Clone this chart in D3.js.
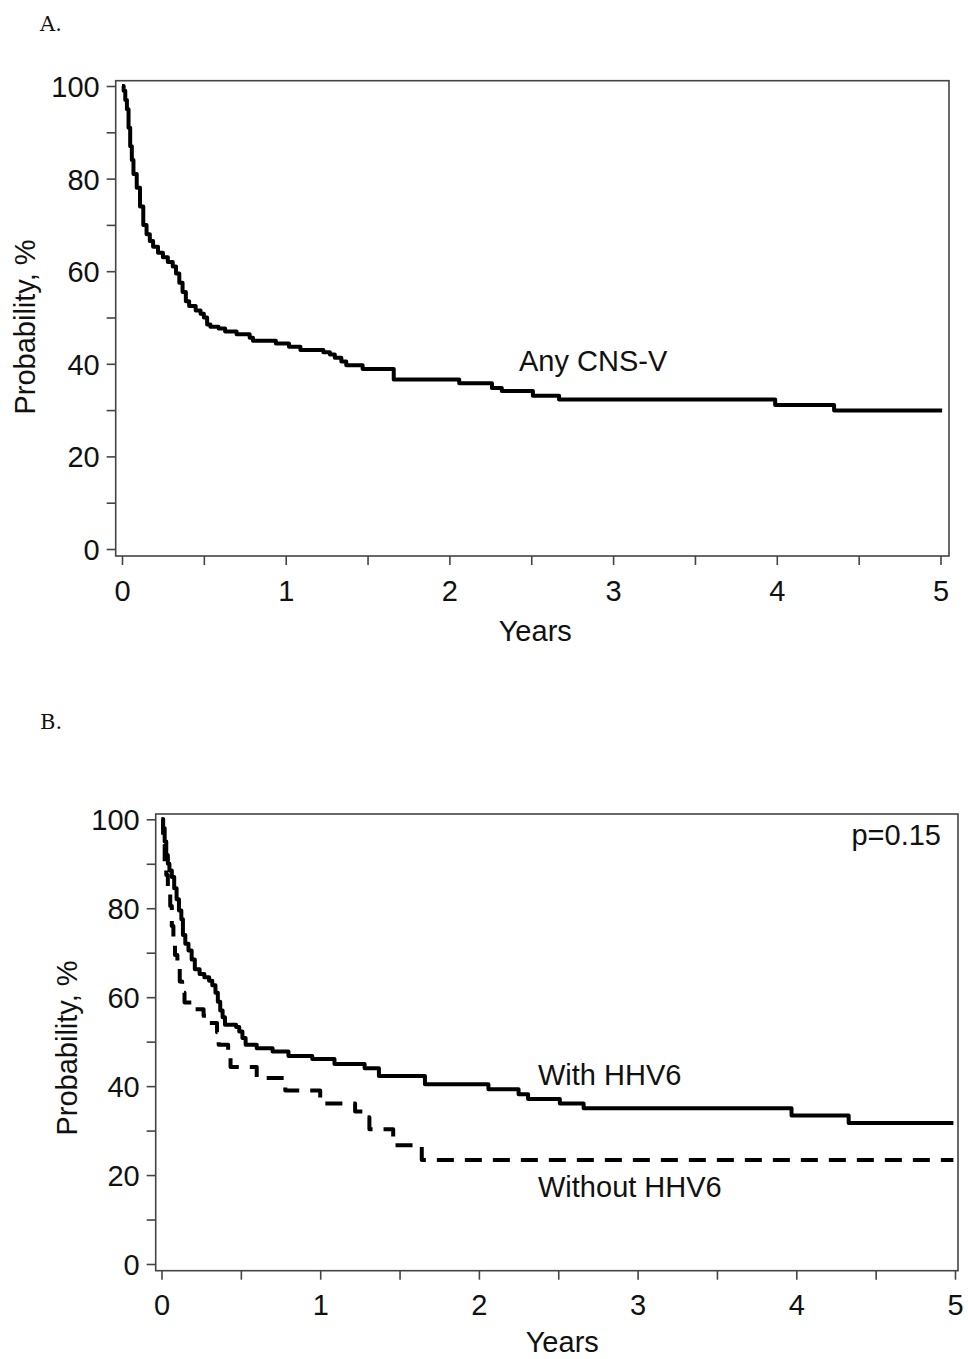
<!DOCTYPE html>
<html>
<head>
<meta charset="utf-8">
<script src="https://cdn.jsdelivr.net/npm/d3@7/dist/d3.min.js"></script>
<style>
  html, body { margin: 0; padding: 0; background: #fff; }
  svg { display: block; }
  text { font-family: "Liberation Sans", Arial, sans-serif; fill: #111; }
</style>
</head>
<body>
<svg id="chart" width="968" height="1359"></svg>
<script>
// ---------- data ----------
const yearTicks = [0, 1, 2, 3, 4, 5];
const yearMinorTicks = [0, 0.5, 1, 1.5, 2, 2.5, 3, 3.5, 4, 4.5, 5];
const probTicks = [0, 20, 40, 60, 80, 100];
const probMinorTicks = [0, 10, 20, 30, 40, 50, 60, 70, 80, 90, 100];

// Panel A: Any CNS-V
const anyTime = [0, 0.01, 0.02, 0.03, 0.04, 0.05, 0.06, 0.07, 0.09, 0.11, 0.13, 0.15, 0.17, 0.19, 0.22, 0.25, 0.28, 0.31, 0.33, 0.35, 0.37, 0.39, 0.41, 0.45, 0.48, 0.50, 0.52, 0.54, 0.59, 0.63, 0.70, 0.78, 0.80, 0.94, 1.02, 1.09, 1.23, 1.27, 1.30, 1.34, 1.37, 1.47, 1.66, 2.06, 2.26, 2.32, 2.51, 2.67, 3.99, 4.35, 5.01];
const anyProb = [100, 99, 97, 95, 91, 87, 84, 81, 78, 74, 70, 68, 66.5, 65.3, 64, 63, 62, 61, 59.5, 57.5, 55.5, 53.5, 52.5, 51.5, 50.8, 50, 48.5, 48, 47.6, 47, 46.4, 45.6, 45, 44.4, 43.7, 43, 42.5, 42, 41.3, 40.5, 39.7, 38.9, 36.6, 35.8, 34.8, 34.1, 33.1, 32.3, 31.1, 29.9, 29.9];

// Panel B: With HHV6
const withTime = [0, 0.01, 0.02, 0.03, 0.04, 0.05, 0.065, 0.08, 0.095, 0.11, 0.125, 0.135, 0.15, 0.17, 0.19, 0.21, 0.24, 0.27, 0.30, 0.32, 0.34, 0.355, 0.37, 0.385, 0.40, 0.47, 0.49, 0.51, 0.53, 0.60, 0.70, 0.80, 0.95, 1.09, 1.28, 1.37, 1.66, 2.06, 2.25, 2.31, 2.51, 2.66, 3.97, 4.33, 4.99];
const withProb = [100, 98, 95, 92, 90, 88.5, 87, 84.5, 82, 79.5, 77.5, 74, 72, 70.5, 68.5, 66.3, 65.2, 64.5, 63.7, 62.7, 61, 59, 57, 55.5, 53.8, 53.3, 52.3, 50.8, 49.3, 48.5, 47.8, 46.8, 46.1, 45, 44, 42.3, 40.4, 39.3, 38.2, 37.1, 36.1, 35, 33.4, 31.7, 31.7];

// Panel B: Without HHV6
const withoutTime = [0, 0.01, 0.02, 0.03, 0.04, 0.055, 0.065, 0.075, 0.085, 0.10, 0.115, 0.13, 0.145, 0.20, 0.265, 0.30, 0.35, 0.36, 0.42, 0.435, 0.60, 0.78, 1.0, 1.22, 1.28, 1.31, 1.46, 1.64, 4.99];
const withoutProb = [100, 96, 90, 87.5, 85, 80.5, 76, 72, 69.5, 67, 63.5, 61, 58.8, 57.3, 55.8, 54.2, 52.1, 49.3, 48.2, 44.3, 41.8, 39, 36.1, 34.3, 33, 30.3, 26.7, 23.4, 23.4];

const zip = (t, p) => t.map((d, i) => [d, p[i]]);

// ---------- drawing ----------
const svg = d3.select("#chart");
const FONT = 29;

function drawPanel(cfg) {
  const g = svg.append("g");
  const x = d3.scaleLinear().domain([0, 5]).range(cfg.xRange);
  const y = d3.scaleLinear().domain([0, 100]).range(cfg.yRange);
  const f = cfg.frame;

  // y axis (ticks to the left of frame)
  const yAxis = d3.axisLeft(y)
    .tickValues(probMinorTicks)
    .tickSize(9)
    .tickPadding(7)
    .tickFormat(d => probTicks.includes(d) ? d : "");
  const ya = g.append("g").attr("transform", `translate(${f.x0},0)`).call(yAxis);
  ya.select(".domain").remove();
  ya.selectAll(".tick line").attr("stroke", "#444").attr("stroke-width", 1.6);
  ya.selectAll(".tick text").attr("font-size", FONT).attr("fill", "#111")
    .style("font-family", '"Liberation Sans", Arial, sans-serif').attr("dy", "0.36em");

  // x axis (ticks below frame)
  const xAxis = d3.axisBottom(x)
    .tickValues(yearMinorTicks)
    .tickSize(9)
    .tickPadding(cfg.xPad)
    .tickFormat(d => yearTicks.includes(d) ? d : "");
  const xa = g.append("g").attr("transform", `translate(0,${f.y1})`).call(xAxis);
  xa.select(".domain").remove();
  xa.selectAll(".tick line").attr("stroke", "#444").attr("stroke-width", 1.6);
  xa.selectAll(".tick text").attr("font-size", FONT).attr("fill", "#111")
    .style("font-family", '"Liberation Sans", Arial, sans-serif');

  // frame
  g.append("rect")
    .attr("x", f.x0).attr("y", f.y0)
    .attr("width", f.x1 - f.x0).attr("height", f.y1 - f.y0)
    .attr("fill", "none").attr("stroke", "#444").attr("stroke-width", 1.6);

  // curves
  const line = d3.line().x(d => x(d[0])).y(d => y(d[1])).curve(d3.curveStepAfter);
  cfg.series.forEach(s => {
    g.append("path")
      .datum(zip(s.t, s.p))
      .attr("d", line)
      .attr("fill", "none")
      .attr("stroke", "#000")
      .attr("stroke-width", 4)
      .attr("stroke-linejoin", "round")
      .attr("stroke-dasharray", s.dash || null);
  });

  // axis titles
  g.append("text")
    .attr("x", (cfg.xRange[0] + cfg.xRange[1]) / 2 + cfg.xTitleShift)
    .attr("y", cfg.xTitleY)
    .attr("text-anchor", "middle")
    .attr("font-size", FONT)
    .text("Years");
  g.append("text")
    .attr("transform", `translate(${cfg.yTitleX},${cfg.yTitleY}) rotate(-90)`)
    .attr("text-anchor", "middle")
    .attr("font-size", FONT)
    .text("Probability, %");

  // panel letter
  svg.append("text")
    .attr("x", cfg.letterX).attr("y", cfg.letterY)
    .style("font-family", '"DejaVu Serif", "Liberation Serif", serif')
    .attr("font-size", 21)
    .text(cfg.letter);

  // annotations
  cfg.notes.forEach(n => {
    g.append("text")
      .attr("x", n.x).attr("y", n.y)
      .attr("text-anchor", n.anchor || "start")
      .attr("font-size", FONT)
      .text(n.text);
  });
  return {x, y};
}

drawPanel({
  letter: "A.", letterX: 40, letterY: 31,
  xRange: [122, 940.5], yRange: [549, 86],
  frame: {x0: 115.7, x1: 949, y0: 80.7, y1: 556},
  xPad: 15, xTitleY: 641, xTitleShift: 4,
  yTitleX: 35, yTitleY: 327,
  series: [{t: anyTime, p: anyProb}],
  notes: [{text: "Any CNS-V", x: 519, y: 371}]
});

drawPanel({
  letter: "B.", letterX: 40, letterY: 729,
  xRange: [161.5, 955], yRange: [1264, 819.3],
  frame: {x0: 155.7, x1: 958, y0: 814, y1: 1270.7},
  xPad: 15, xTitleY: 1352, xTitleShift: 4,
  yTitleX: 77, yTitleY: 1048,
  series: [
    {t: withTime, p: withProb},
    {t: withoutTime, p: withoutProb, dash: "17,11"}
  ],
  notes: [
    {text: "With HHV6", x: 538, y: 1085},
    {text: "Without HHV6", x: 538, y: 1197},
    {text: "p=0.15", x: 941, y: 845, anchor: "end"}
  ]
});
</script>
</body>
</html>
